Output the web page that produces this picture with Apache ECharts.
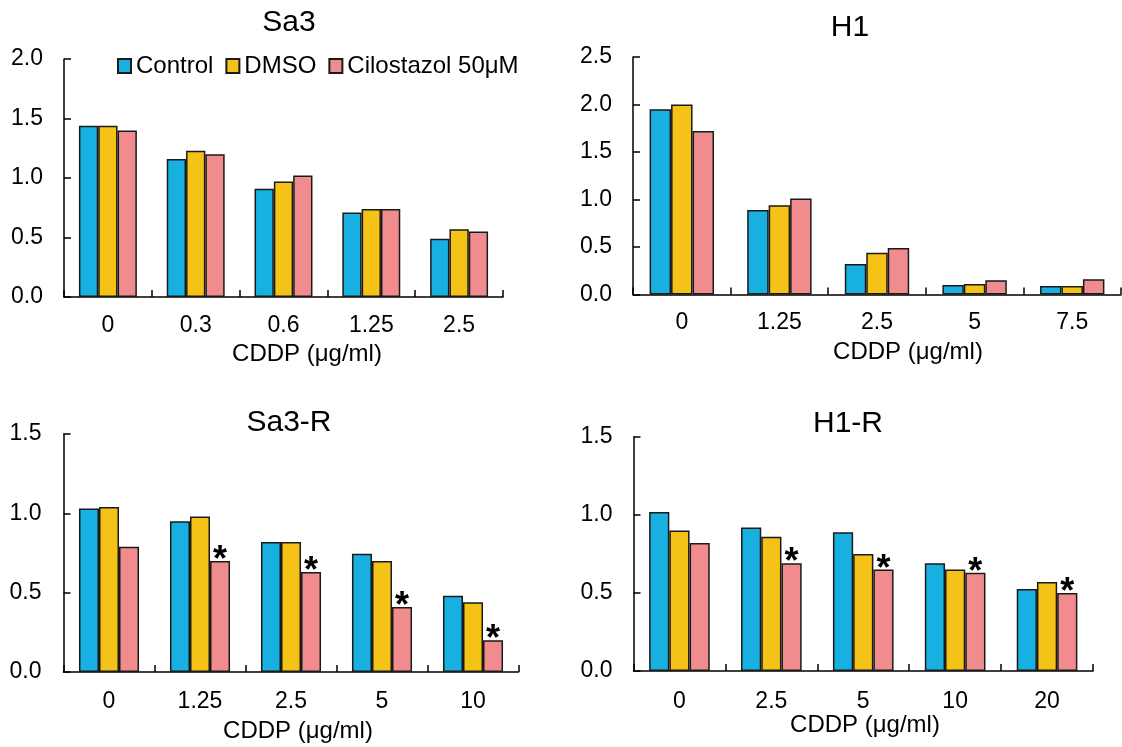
<!DOCTYPE html>
<html>
<head>
<meta charset="utf-8">
<script src="https://cdn.jsdelivr.net/npm/echarts@6/dist/echarts.min.js"></script>
<style>
  html, body { margin: 0; padding: 0; background: #fff; }
  #chart { width: 1122px; height: 747px; }
</style>
</head>
<body>
<div id="chart"></div>
<script>
// Treatment groups
const seriesNames = ['Control', 'DMSO', 'Cilostazol 50μM'];

// Sa3
const sa3Doses = ['0', '0.3', '0.6', '1.25', '2.5'];
const sa3Control = [1.44, 1.16, 0.91, 0.71, 0.49];
const sa3Dmso = [1.44, 1.23, 0.97, 0.74, 0.57];
const sa3Cilo = [1.40, 1.20, 1.02, 0.74, 0.55];

// H1
const h1Doses = ['0', '1.25', '2.5', '5', '7.5'];
const h1Control = [1.95, 0.89, 0.32, 0.10, 0.09];
const h1Dmso = [2.00, 0.94, 0.44, 0.11, 0.09];
const h1Cilo = [1.72, 1.01, 0.49, 0.15, 0.16];

// Sa3-R
const sa3rDoses = ['0', '1.25', '2.5', '5', '10'];
const sa3rControl = [1.03, 0.95, 0.82, 0.745, 0.48];
const sa3rDmso = [1.04, 0.98, 0.82, 0.70, 0.44];
const sa3rCilo = [0.79, 0.70, 0.63, 0.41, 0.20];
const sa3rSig = [false, true, true, true, true];

// H1-R
const h1rDoses = ['0', '2.5', '5', '10', '20'];
const h1rControl = [1.02, 0.92, 0.89, 0.69, 0.525];
const h1rDmso = [0.90, 0.86, 0.75, 0.65, 0.57];
const h1rCilo = [0.82, 0.69, 0.65, 0.63, 0.50];
const h1rSig = [false, true, true, true, true];

// Axis ranges and tick labels
const yMaxes = [2.0, 2.5, 1.5, 1.5];
const yStep = 0.5;
const panelTitles = ['Sa3', 'H1', 'Sa3-R', 'H1-R'];
const xAxisTitle = 'CDDP (μg/ml)';

const FONT = 'Arial, "Liberation Sans", sans-serif';
const colors = ['#18B0E1', '#F5C318', '#F08C8D'];

const panels = [
  { doses: sa3Doses, values: [sa3Control, sa3Dmso, sa3Cilo], sig: null,
    grid: { left: 64, top: 59, width: 439, height: 238 }, xMargin: 17, yMargin: 21,
    title: [289, 23], axisName: [307, 354] },
  { doses: h1Doses, values: [h1Control, h1Dmso, h1Cilo], sig: null,
    grid: { left: 633, top: 57, width: 488, height: 237.5 }, xMargin: 17, yMargin: 21,
    title: [850, 28], axisName: [908, 352] },
  { doses: sa3rDoses, values: [sa3rControl, sa3rDmso, sa3rCilo], sig: sa3rSig,
    grid: { left: 63.5, top: 434, width: 455, height: 238 }, xMargin: 18, yMargin: 22,
    title: [289, 423], axisName: [298, 731] },
  { doses: h1rDoses, values: [h1rControl, h1rDmso, h1rCilo], sig: h1rSig,
    grid: { left: 633.5, top: 437, width: 459.5, height: 234 }, xMargin: 19, yMargin: 21,
    title: [848, 424], axisName: [865, 725] }
];

const axisLineStyle = { color: '#000', width: 1.5 };

const grids = [], xAxes = [], yAxes = [], series = [], graphics = [];

panels.forEach((p, i) => {
  grids.push(Object.assign({ containLabel: false }, p.grid));
  xAxes.push({
    type: 'category', gridIndex: i, data: p.doses,
    axisLine: { show: true, lineStyle: axisLineStyle },
    axisTick: { show: true, inside: true, length: 7, alignWithLabel: false, lineStyle: axisLineStyle },
    axisLabel: { color: '#000', fontSize: 23, fontFamily: FONT, margin: p.xMargin },
    splitLine: { show: false }
  });
  yAxes.push({
    type: 'value', gridIndex: i, min: 0, max: yMaxes[i], interval: yStep,
    axisLine: { show: true, lineStyle: axisLineStyle },
    axisTick: { show: true, inside: true, length: 7, lineStyle: axisLineStyle },
    axisLabel: { color: '#000', fontSize: 23, fontFamily: FONT, margin: p.yMargin,
                 formatter: v => v.toFixed(1) },
    splitLine: { show: false }
  });
  p.values.forEach((vals, s) => {
    const isCilo = s === 2;
    series.push({
      type: 'bar', name: seriesNames[s], xAxisIndex: i, yAxisIndex: i,
      barGap: '0%', barCategoryGap: '34%',
      itemStyle: { color: colors[s], borderColor: '#1a1a1a', borderWidth: 1.5 },
      data: vals.map((v, k) => {
        const item = { value: v };
        if (isCilo && p.sig && p.sig[k]) {
          // significance mark above the cilostazol bar
          item.label = {
            show: true, position: 'top', distance: -18, formatter: '*',
            color: '#000', fontSize: 36, fontWeight: 'bold', fontFamily: FONT
          };
        }
        return item;
      }),
      emphasis: { disabled: true },
      silent: true,
      animation: false
    });
  });
  graphics.push({
    type: 'text', x: p.title[0], y: p.title[1],
    style: { text: panelTitles[i], font: '30px ' + FONT, fill: '#000',
             textAlign: 'center', textVerticalAlign: 'middle' }
  });
  graphics.push({
    type: 'text', x: p.axisName[0], y: p.axisName[1],
    style: { text: xAxisTitle, font: '24px ' + FONT, fill: '#000',
             textAlign: 'center', textVerticalAlign: 'middle' }
  });
});

const chart = echarts.init(document.getElementById('chart'), null, { renderer: 'canvas' });
chart.setOption({
  backgroundColor: '#fff',
  animation: false,
  legend: {
    data: seriesNames, left: 112, top: 49, orient: 'horizontal',
    icon: 'rect', itemWidth: 13, itemHeight: 14, itemGap: 12,
    selectedMode: false,
    textStyle: { color: '#000', fontSize: 24, fontFamily: FONT }
  },
  grid: grids,
  xAxis: xAxes,
  yAxis: yAxes,
  series: series,
  graphic: graphics
});
</script>
</body>
</html>
